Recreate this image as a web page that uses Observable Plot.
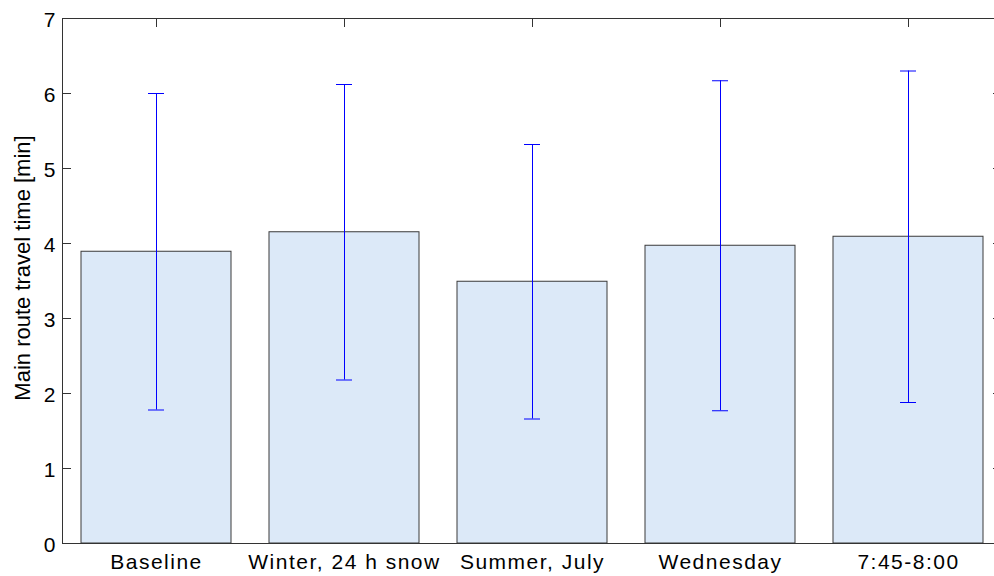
<!DOCTYPE html>
<html>
<head>
<meta charset="utf-8">
<script src="https://cdn.jsdelivr.net/npm/d3@7"></script>
<script src="https://cdn.jsdelivr.net/npm/@observablehq/plot@0.6"></script>
<style>
  body { margin: 0; background: #fff; }
  g[aria-label="x-axis tick label"] text { letter-spacing: 1.5px; }
</style>
</head>
<body>
<div id="chart"></div>
<script>
// Mean main-route travel time per scenario, with ± one standard deviation
const categories = ["Baseline", "Winter, 24 h snow", "Summer, July", "Wednesday", "7:45-8:00"];
const means = [3.89, 4.15, 3.49, 3.97, 4.09];
const sds = [2.11, 1.97, 1.83, 2.20, 2.21];
const yTicks = [0, 1, 2, 3, 4, 5, 6, 7];

const rows = categories.map((name, i) => ({
  name,
  mean: means[i],
  lo: means[i] - sds[i],
  hi: means[i] + sds[i]
}));

const axisColor = "#333";
const W = 994, H = 576;
const M = {left: 62, right: -8, top: 18, bottom: 33};
const frameW = W - M.left - M.right;
const frameH = H - M.top - M.bottom;
const tickLen = 9;

const chart = Plot.plot({
  width: W,
  height: H,
  marginLeft: M.left,
  marginRight: M.right,
  marginTop: M.top,
  marginBottom: M.bottom,
  style: {fontFamily: "'Liberation Sans', Arial, Helvetica, sans-serif", fontSize: "21px", color: "#000", background: "#fff"},
  x: {type: "band", domain: categories, paddingInner: 0.2, paddingOuter: 0.1, label: null},
  y: {domain: [0, 7], label: null},
  marks: [
    // inward-pointing ticks on all four sides (drawn beneath the bars)
    Plot.tickY(yTicks, {y: d => d, insetRight: frameW - tickLen, stroke: axisColor}),
    Plot.tickY(yTicks, {y: d => d, insetLeft: frameW - tickLen, stroke: axisColor}),
    Plot.tickX(categories, {x: d => d, insetBottom: frameH - tickLen, stroke: axisColor}),
    Plot.tickX(categories, {x: d => d, insetTop: frameH - tickLen, stroke: axisColor}),
    // tick labels
    Plot.axisX({anchor: "bottom", tickSize: 0, tickPadding: 11, fill: "#000", label: null}),
    Plot.axisY(yTicks, {anchor: "left", tickSize: 0, tickPadding: 7, dy: 2, tickFormat: d => String(d), fill: "#000", label: null}),
    // bars
    Plot.barY(rows, {x: "name", y: "mean", fill: "#dce9f8", stroke: "#3a3a3a", strokeWidth: 1}),
    // error bars with caps
    Plot.ruleX(rows, {x: "name", y1: "lo", y2: "hi", stroke: "#0000ff", strokeWidth: 1}),
    Plot.tickY(rows, {x: "name", y: "hi", stroke: "#0000ff", strokeWidth: 1, inset: 67}),
    Plot.tickY(rows, {x: "name", y: "lo", stroke: "#0000ff", strokeWidth: 1, inset: 67}),
    // axes box
    Plot.frame({stroke: axisColor, strokeWidth: 1}),
    // y-axis title
    Plot.text(["Main route travel time [min]"], {
      frameAnchor: "left", rotate: -90, dx: -33, dy: -13, lineAnchor: "bottom",
      textAnchor: "middle", fontSize: 22, fill: "#000"
    })
  ]
});

document.getElementById("chart").append(chart);
</script>
</body>
</html>
